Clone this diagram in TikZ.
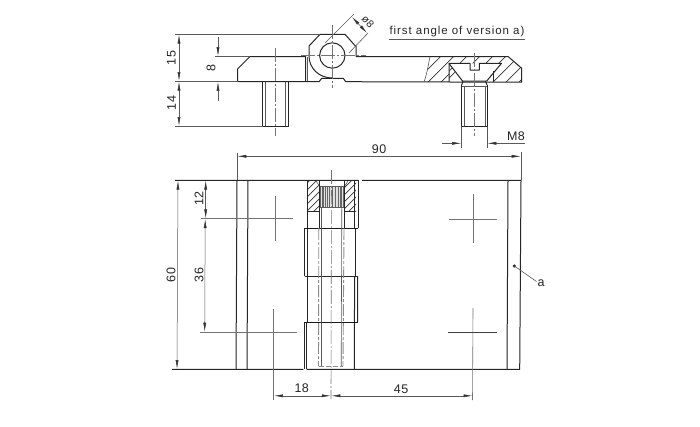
\documentclass[tikz,border=0pt]{standalone}
\usepackage{fontspec}
\setmainfont{Liberation Sans}
\usetikzlibrary{arrows.meta}
\tikzset{
  part/.style={draw=black!85,line width=1pt,line join=round},
  heavy/.style={draw=black!90,line width=1.2pt},
  thin/.style={draw=black!65,line width=0.6pt},
  hidden/.style={draw=black!45,line width=0.9pt,dash pattern=on 12pt off 2pt on 3pt off 2pt},
  axis/.style={draw=black!55,line width=0.6pt,dash pattern=on 14pt off 2pt on 2pt off 2pt},
  crossline/.style={draw=black!55,line width=0.6pt},
  hatch/.style={draw=black!80,line width=0.7pt},
  dimline/.style={draw=black!65,line width=0.5pt,{Latex[length=9pt,width=3pt,black!80]}-{Latex[length=9pt,width=3pt,black!80]}},
  dimin/.style={draw=black!65,line width=0.5pt,-{Latex[length=9pt,width=3pt,black!80]}},
  dimtext/.style={font=\fontsize{12.5}{13}\selectfont\addfontfeatures{LetterSpace=4},text=black!85,inner sep=0pt},
}
\begin{document}
\begin{tikzpicture}[x=1pt,y=-1pt]
\useasboundingbox (0,0) rectangle (700,426);
\fill[white] (0,0) rectangle (700,426);

% ---- top view: left leaf
\draw[part] (237.5,81.3) -- (237.5,69) -- (250,56.5) -- (305.5,56.5) -- (305.5,81.3);
\draw[thin] (307,57) -- (307,81);
\draw[part] (262.7,81.3) -- (262.7,126.3) -- (288,126.3) -- (288,81.3);
\draw[thin] (265.5,82) -- (265.5,126) (285.5,82) -- (285.5,126);
\draw[axis] (275.7,48) -- (275.7,136);

% ---- top view: knuckle
\draw[part] (332,78) .. controls (319.5,78) and (309,68.5) .. (309,56) -- (309,46) -- (320,34.3) -- (345,34.3) -- (356,46.7) -- (356,56.5) -- (429,56.5);
\draw[part] (332.3,55.5) circle[radius=12.7];
\draw[part] (237.5,81.5) -- (319.3,81.5) -- (321.7,78.3) -- (343.3,78.3) -- (345.7,81.7) -- (522,82.2);
\draw[axis] (301,55.5) -- (366,55.5);
\draw[axis] (332.3,25) -- (332.3,88);

% ---- top view: section through the right leaf
\begin{scope}
\clip (430,56.7) .. controls (428,66) and (427,74) .. (424,82) -- (449,82) -- (449,63.3) -- (501.5,63.3) -- (486.7,82) -- (522,82) -- (522,68.3) -- (508.3,56.7) -- cycle;
\foreach \c in {484,497,...,610} \draw[hatch] (\c,0) -- (0,\c);
\end{scope}
\begin{scope}
\clip (449,64.3) -- (461.7,82) -- (449,82) -- cycle;
\foreach \c in {513,520,527} \draw[hatch] (\c,0) -- (0,\c);
\end{scope}
\draw[thin] (430,56.7) .. controls (428,66) and (427,74) .. (424,82);
\draw[part] (429,56.7) -- (508.3,56.7) -- (521.7,68.3) -- (521.7,82.2);
\draw[part] (449,82) -- (449,63.3) -- (470,63.3) -- (470,70) -- (479.3,70) -- (479.3,63.3) -- (501.5,63.3) -- (486.7,81);
\draw[part] (449,63.5) -- (462.5,81) -- (486.7,81);
\draw[part] (493,71) -- (493,82);
\draw[part] (461.7,85) -- (461.7,126.3) -- (487,126.3) -- (487,85);
\draw[part] (461.7,85) -- (463,81) (487,85) -- (485.5,81);
\draw[thin] (464,86) -- (464,126) (485,86) -- (485,126) (461.7,86) -- (487,86);
\draw[axis] (474.3,53) -- (474.3,136);

% ---- top view: dimensions
\draw[thin] (175,34.3) -- (320,34.3);
\draw[thin] (175,81.3) -- (237.5,81.3);
\draw[thin] (175,126.3) -- (262.7,126.3);
\draw[thin] (215,56.5) -- (250,56.5);
\draw[dimline] (179,34.6) -- (179,81);
\draw[dimline] (179,81.6) -- (179,126);
\draw[dimin] (218,37) -- (218,56.2);
\draw[dimin] (218,101) -- (218,81.8);
\node[dimtext,rotate=90] (d15) at (171.5,58) {15};
\node[dimtext,rotate=90] (d14) at (171.5,103) {14};
\node[dimtext,rotate=90] (d8) at (211,68) {8};
\draw[thin] (325,43) -- (354,14);
\draw[thin] (349,53) -- (368,33);
\draw[dimline] (352,17) -- (367,33);
\node[font=\fontsize{10.5}{11}\selectfont,text=black!85,inner sep=0pt,rotate=-47] (dphi) at (368,21.5) {ø8};
\node[font=\fontsize{11.5}{12}\selectfont\addfontfeatures{LetterSpace=8},text=black!85,inner sep=0pt] (title) at (457,31.5) {first angle of version a)};
\draw[thin] (389,39) -- (525,39);
\draw[thin] (461.5,126.5) -- (461.5,148) (487,126.5) -- (487,148);
\draw[dimin] (442,143.3) -- (461.2,143.3);
\draw[dimin] (525,143.3) -- (487.3,143.3);
\node[dimtext] (m8) at (516,136.5) {M8};
\draw[thin] (237,153) -- (237,180) (521,152) -- (521,180);
\draw[dimline] (237.3,156.3) -- (520.7,156.3);
\node[dimtext] (d90) at (379,149) {90};

% ---- front view: plate
\draw[part] (175,180.3) -- (358.3,180.3) (362,180.3) -- (521,180.3) -- (519.7,369.3) -- (306.7,369.3) (303.3,369.3) -- (172,369.3);
\draw[part] (237,180.3) -- (236,369.3);
\draw[part] (248,180.3) -- (247,369.3);
\draw[part] (508,180.3) -- (507,369.3);

% ---- front view: knuckles
\draw[part] (307.7,180.3) -- (307.7,228.3);
\draw[part] (358.3,180.3) -- (358.3,228.3);
\draw[part] (354.8,180.3) -- (354.8,228.3);
\draw[part] (304.5,228.3) -- (304.5,276) (307,228.3) -- (307,322.7);
\draw[part] (355.5,228.3) -- (355.5,276);
\draw[part] (357.7,276) -- (357.5,322.7);
\draw[part] (354.6,276) -- (354.3,369.3);
\draw[part] (304,322.7) -- (304,369.3) (306.8,322.7) -- (306.8,369.3);
\draw[heavy] (304.5,228.3) -- (358.3,228.3);
\draw[part] (304.5,276) -- (357.7,276);
\draw[heavy] (304,322.7) -- (357.5,322.7);

% hatched ends and knurling
\begin{scope}
\clip (308,181) rectangle (319.3,211);
\foreach \c in {490,497,...,560} \draw[hatch] (\c,0) -- (0,\c);
\end{scope}
\begin{scope}
\clip (344.8,181) rectangle (356,211);
\foreach \c in {525,532,...,600} \draw[hatch] (\c,0) -- (0,\c);
\end{scope}
\draw[part] (308,211) -- (319.3,211) (344.8,211) -- (354.8,211);
\fill[black!12] (320,186.7) rectangle (344.3,207);
\foreach \x in {320.5,322,323.5,325,327,329.5,332.5,335.5,338,340,341.5,343,344}
  \draw[draw=black!60,line width=0.7pt] (\x,186.7) -- (\x,207);
\draw[thin] (320,186.7) -- (344.3,186.7) (320,207) -- (344.3,207);
\draw[thin] (316,181) -- (320,186.7) (348,181) -- (344.3,186.7);

% bore and thread
\draw[part] (319.3,181) -- (319.3,228);
\draw[part] (344.8,181) -- (344.8,228);
\draw[hidden] (318.8,228) -- (318.5,366);
\draw[hidden] (344,228) -- (343,366);
\draw[thin] (321.5,207) -- (321.5,366) (341.8,207) -- (341.2,366);
\draw[hidden,dash pattern=on 5pt off 2pt] (318.5,366.5) -- (343,366.5);

% centre lines and crosses
\draw[axis] (331.5,170) -- (331,399);
\draw[crossline] (275,196) -- (275,241);
\draw[crossline] (201,218.7) -- (293,218.7);
\draw[crossline] (273.7,309) -- (273.7,400);
\draw[crossline] (200,332) -- (297,332);
\draw[crossline] (473.3,194) -- (473.3,243);
\draw[crossline] (449,219) -- (497,219);
\draw[crossline] (473,308) -- (472.5,400);
\draw[crossline,draw=black!75] (448,332.3) -- (497,332.3);

% ---- front view: dimensions
\draw[dimline] (178,180.6) -- (177,369);
\node[dimtext,rotate=90] (d60) at (171,275) {60};
\draw[dimline] (205.7,180.6) -- (205.7,218.4);
\draw[dimline] (205.2,219) -- (204.7,331.7);
\node[dimtext,rotate=90] (d12) at (199,198.5) {12};
\node[dimtext,rotate=90] (d36) at (199,275) {36};
\draw[dimline] (273.9,395.8) -- (330.8,395.8);
\draw[dimline] (331.3,395.8) -- (472.5,395.8);
\node[dimtext] (d18) at (301.7,388) {18};
\node[dimtext] (d45) at (401,389) {45};

% ---- leader a
\fill[black!85] (514.3,266) circle[radius=1.7];
\coordinate (leaderend) at (536.5,281.5);
\draw[thin] (514.3,266) -- (leaderend);
\node[dimtext] (labela) at (541,283.5) {a};
\end{tikzpicture}
\end{document}
